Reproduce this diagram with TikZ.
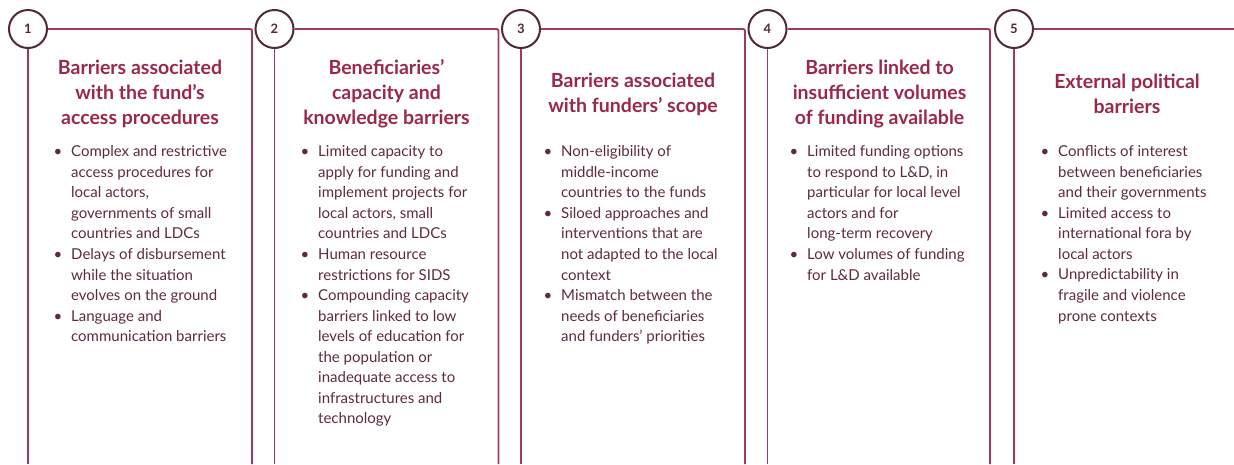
\documentclass[tikz,border=0pt]{standalone}
\usepackage{fontspec}
\setmainfont{Lato}
\definecolor{boxred}{HTML}{A03A58}
\definecolor{titlered}{HTML}{9A2848}
\definecolor{bodytxt}{HTML}{5E2B3E}
\definecolor{circ}{HTML}{4F2A38}
\newcommand{\bul}{\leavevmode\llap{\textbullet\hspace{9pt}}}
\tikzset{
  num/.style={circle, draw=circ, line width=2pt, minimum size=38pt, inner sep=0pt, fill=white,
    font=\fontsize{13}{13}\selectfont\bfseries, text=circ},
  frame/.style={draw=boxred, line width=1.9pt, rounded corners=2pt},
  ttl/.style={align=center, text=titlered, font=\fontsize{19.5}{25}\selectfont\bfseries, inner sep=0pt},
  body/.style={align=left, text=bodytxt, font=\fontsize{15}{20.55}\selectfont, inner sep=0pt, anchor=north west}
}
\begin{document}
\begin{tikzpicture}[x=1pt,y=-1pt]
\useasboundingbox (0,0) rectangle (1234,464);
\fill[white] (0,0) rectangle (1234,464);
% frames
\foreach \i/\cx/\rx in {1/28/252, 2/274.5/498.5, 3/521/745, 4/767.5/990} {
  \node[num] (c\i) at (\cx,29) {\i};
  \coordinate (bl\i) at (\cx,464);
  \coordinate (tr\i) at (\rx,29);
  \coordinate (br\i) at (\rx,464);
  \draw[frame] (c\i.south) -- (bl\i);
  \draw[frame] (c\i.east) -- (tr\i) -- (br\i);
}
\node[num] (c5) at (1014,29) {5};
\coordinate (bl5) at (1014,464);
\coordinate (tr5) at (1236,29);
\draw[frame] (c5.south) -- (bl5);
\draw[frame] (c5.east) -- (tr5);
% titles
\node[ttl] (t1) at (140,94) {Barriers associated\\with the fund’s\\access procedures};
\node[ttl] (t2) at (386.5,94) {Beneficiaries’\\capacity and\\knowledge barriers};
\node[ttl] (t3) at (633,94) {Barriers associated\\with funders’ scope};
\node[ttl] (t4) at (879.5,94) {Barriers linked to\\insufficient volumes\\of funding available};
\node[ttl] (t5) at (1127,94) {External political\\barriers};
% bodies
\node[body] (b1) at (71,145.5) {\bul Complex and restrictive\\access procedures for\\local actors,\\governments of small\\countries and LDCs\\
\bul Delays of disbursement\\while the situation\\evolves on the ground\\
\bul Language and\\communication barriers};
\node[body] (b2) at (318,145.5) {\bul Limited capacity to\\apply for funding and\\implement projects for\\local actors, small\\countries and LDCs\\
\bul Human resource\\restrictions for SIDS\\
\bul Compounding capacity\\barriers linked to low\\levels of education for\\the population or\\inadequate access to\\infrastructures and\\technology};
\node[body] (b3) at (561,145.5) {\bul Non-eligibility of\\middle-income\\countries to the funds\\
\bul Siloed approaches and\\interventions that are\\not adapted to the local\\context\\
\bul Mismatch between the\\needs of beneficiaries\\and funders’ priorities};
\node[body] (b4) at (807,145.5) {\bul Limited funding options\\to respond to L\&D, in\\particular for local level\\actors and for\\long-term recovery\\
\bul Low volumes of funding\\for L\&D available};
\node[body] (b5) at (1058,145.5) {\bul Conflicts of interest\\between beneficiaries\\and their governments\\
\bul Limited access to\\international fora by\\local actors\\
\bul Unpredictability in\\fragile and violence\\prone contexts};
\end{tikzpicture}
\end{document}
